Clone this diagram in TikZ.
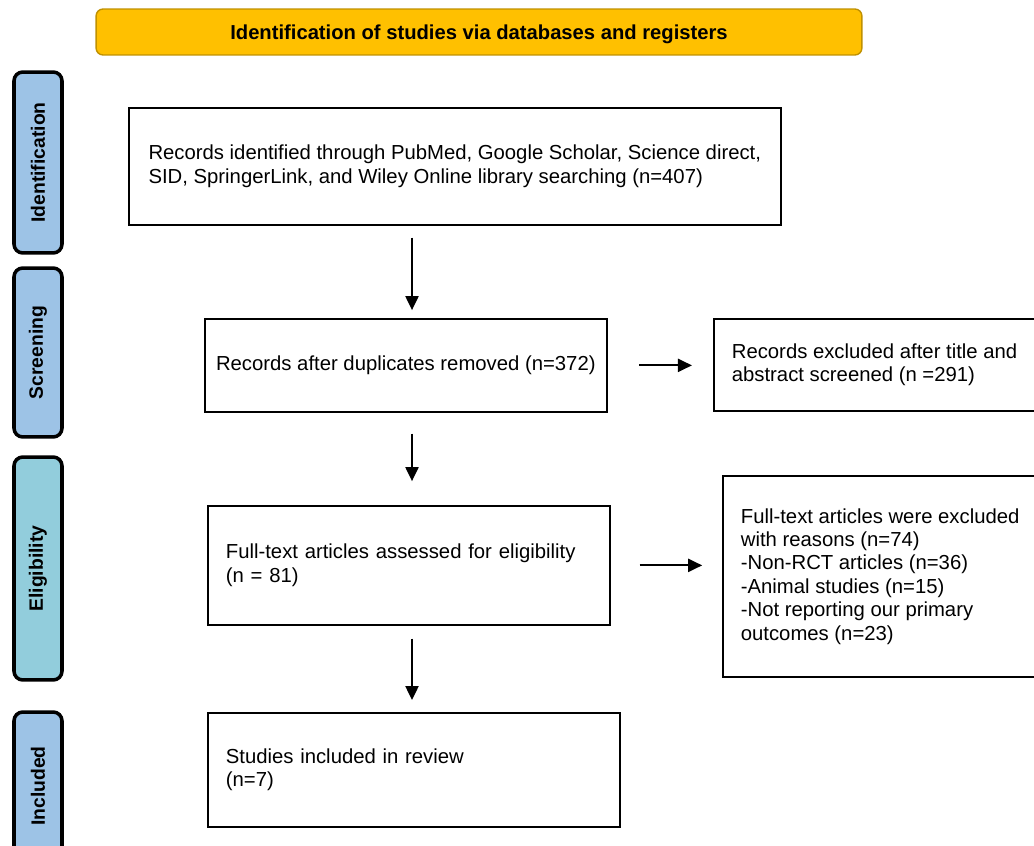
\documentclass[tikz,border=0pt]{standalone}
\usepackage{fontspec}
\setmainfont{Liberation Sans}
\usepackage{tikz}
\usetikzlibrary{positioning}
\usetikzlibrary{arrows.meta}
\definecolor{hdrfill}{HTML}{FFC000}
\definecolor{hdrline}{HTML}{C09100}
\definecolor{phaseblue}{HTML}{9DC3E6}
\definecolor{phasecyan}{HTML}{92CDDC}
\tikzset{
    prisma/.style={
            x=0.02cm,y=-0.02cm,
            header/.style={draw=hdrline,line width=0.8pt,fill=hdrfill,rounded corners=4pt,
                    minimum width=15.32cm,minimum height=0.92cm,text height=10.5pt,
                    font=\bfseries\fontsize{11.5}{13}\selectfont},
            phase/.style={draw,line width=2pt,rounded corners=5pt,fill=phaseblue,rotate=90,
                    minimum height=0.96cm,inner sep=0pt,
                    font=\bfseries\fontsize{11}{13}\selectfont},
            box/.style={draw,line width=1pt,anchor=north west,align=left,inner xsep=0.36cm,
                    font=\fontsize{11.55}{13.3}\selectfont},
            arrow/.style={line width=1pt,-{Triangle[length=8pt,width=7.5pt]}}
        }
    }
\begin{document}
\begin{tikzpicture}[prisma]
    \clip (0,0) rectangle (1034,845);
    \node (Hdr) [header] at (479,32) {Identification of studies via databases and registers};
    % phase bars on the left
    \node (PId) [phase, minimum width=3.62cm] at (38,162.5) {Identification};
    \node (PSc) [phase, minimum width=3.38cm] at (38,352.5) {Screening};
    \node (PEl) [phase, minimum width=4.46cm, fill=phasecyan] at (38,568.5) {Eligibility};
    \node (PIn) [phase, minimum width=2.96cm] at (38,786) {Included};
    % flow boxes
    \node (Rec) [box, minimum width=13.04cm, minimum height=2.34cm] at (128,107)
        {Records identified through PubMed, Google Scholar, Science direct,\\SID, SpringerLink, and Wiley Online library searching (n=407)};
    \node (Dup) [box, inner xsep=0.22cm, minimum width=8.04cm, minimum height=1.86cm] at (204,318)
        {Records after duplicates removed (n=372)};
    \node (ExTA) [box, minimum width=6.38cm, minimum height=1.84cm] at (713,318)
        {Records excluded after title and\\abstract screened (n =291)};
    \node (FT) [box, text width=7.32cm, minimum height=2.38cm] at (207,505)
        {Full-text articles assessed for eligibility\\(n = 81)};
    \node (ExFT) [box, minimum width=6.2cm, minimum height=4.02cm] at (722,475)
        {Full-text articles were excluded\\with reasons (n=74)\\-Non-RCT articles (n=36)\\-Animal studies (n=15)\\-Not reporting our primary\\outcomes (n=23)};
    \node (Inc) [box, text width=7.52cm, minimum height=2.28cm] at (207,712)
        {Studies included in review\\(n=7)};
    % arrows
    \coordinate (axis) at (412,0);
    \draw [arrow, shorten <=6.8pt, shorten >=4.5pt] (Rec.south -| axis) -- (Dup.north -| axis);
    \draw [arrow, shorten <=11.9pt, shorten >=13.6pt] (Dup.south -| axis) -- (FT.north -| axis);
    \draw [arrow, shorten <=7.4pt, shorten >=6.8pt] (FT.south -| axis) -- (Inc.north -| axis);
    \draw [arrow, shorten <=18pt, shorten >=12pt] (Dup.east) -- (Dup.east -| ExTA.west);
    \draw [arrow, shorten <=16.4pt, shorten >=11.3pt] (FT.east) -- (FT.east -| ExFT.west);
\end{tikzpicture}
\end{document}
